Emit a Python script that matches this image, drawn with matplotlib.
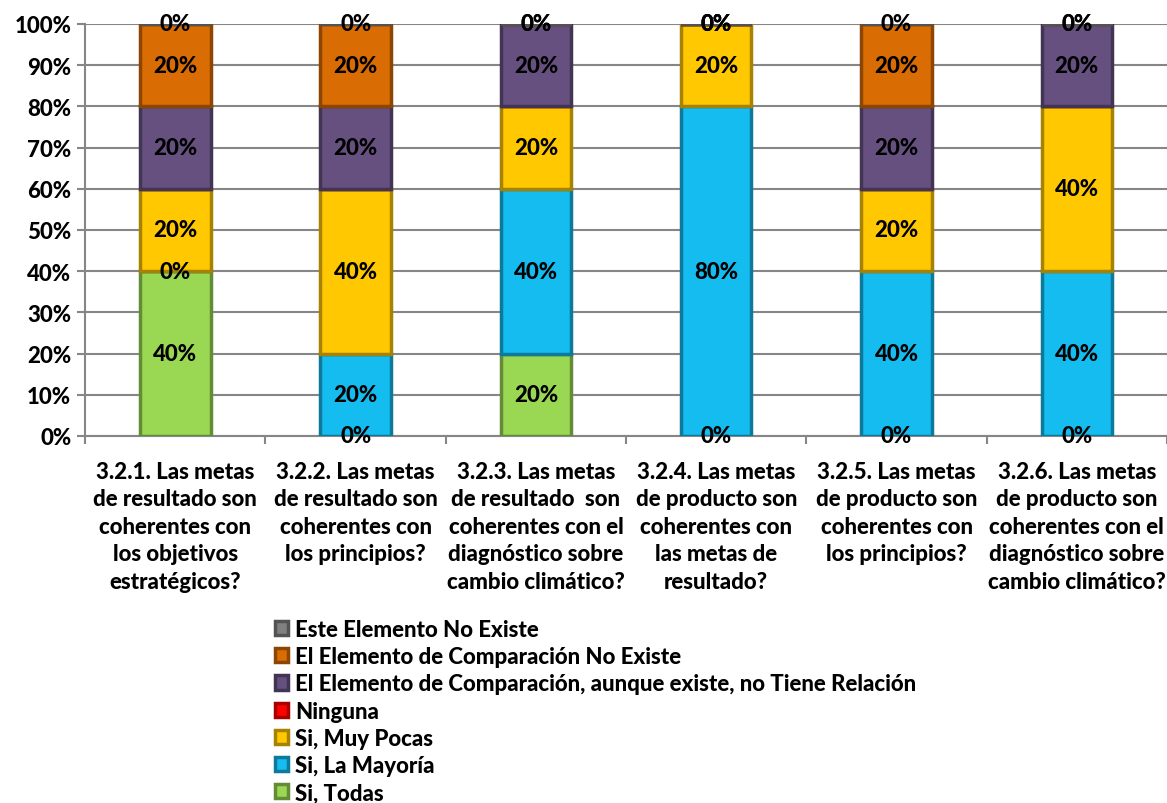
import numpy as np
import matplotlib.pyplot as plt
from matplotlib.colors import to_rgb

plt.rcParams['font.family'] = ['Lato', 'DejaVu Sans']
plt.rcParams['font.weight'] = 'bold'

categories = [
    "3.2.1. Las metas\nde resultado son\ncoherentes con\nlos objetivos\nestratégicos?",
    "3.2.2. Las metas\nde resultado son\ncoherentes con\nlos principios?",
    "3.2.3. Las metas\nde resultado  son\ncoherentes con el\ndiagnóstico sobre\ncambio climático?",
    "3.2.4. Las metas\nde producto son\ncoherentes con\nlas metas de\nresultado?",
    "3.2.5. Las metas\nde producto son\ncoherentes con\nlos principios?",
    "3.2.6. Las metas\nde producto son\ncoherentes con el\ndiagnóstico sobre\ncambio climático?",
]

# stack order, bottom to top
series_names = [
    "Si, Todas",
    "Si, La Mayoría",
    "Si, Muy Pocas",
    "Ninguna",
    "El Elemento de Comparación, aunque existe, no Tiene Relación",
    "El Elemento de Comparación No Existe",
    "Este Elemento No Existe",
]
si_todas = [40, 0, 20, 0, 0, 0]
si_mayoria = [0, 20, 40, 80, 40, 40]
si_pocas = [20, 40, 20, 20, 20, 40]
ninguna = [0, 0, 0, 0, 0, 0]
no_relacion = [20, 20, 20, 0, 20, 20]
comp_no_existe = [20, 20, 0, 0, 20, 0]
no_existe = [0, 0, 0, 0, 0, 0]
series_values = [si_todas, si_mayoria, si_pocas, ninguna, no_relacion, comp_no_existe, no_existe]
colors = ["#9ad854", "#14bcf0", "#ffc800", "#ff0000", "#66507f", "#d96c02", "#808080"]
show_labels = [True, True, True, False, True, True, True]

fig = plt.figure(figsize=(11.67, 8.04), dpi=100)
ax = fig.add_axes([0.073, 0.4565, 0.927, 0.5125])

x = np.arange(len(categories))
bottom = np.zeros(len(categories))
handles = []
for name, vals, col, lab in zip(series_names, series_values, colors, show_labels):
    vals = np.array(vals, dtype=float)
    edge = tuple(c * 0.65 for c in to_rgb(col))
    b = ax.bar(x, vals, 0.39, bottom=bottom, color=col, edgecolor=edge,
               linewidth=2.5, label=name, zorder=3)
    handles.append(b)
    if lab:
        for xi, v, bt in zip(x, vals, bottom):
            ax.text(xi, bt + v / 2, f"{v:.0f}%", ha='center', va='center',
                    fontsize=16, fontweight='black', color='black', zorder=5)
    bottom = bottom + vals

ax.set_xlim(-0.5, len(categories) - 0.5)
ax.set_ylim(0, 100)
ax.set_yticks(np.arange(0, 101, 10))
ax.set_yticklabels([f"{v}%" for v in range(0, 101, 10)], fontsize=16, fontweight='black')
ax.yaxis.grid(True, color='#868686', linewidth=1.5, zorder=0)
ax.set_axisbelow(True)
ax.tick_params(axis='y', length=6, color='#868686', width=1.5, pad=4)

ax.set_xticks(x)
ax.set_xticklabels(categories, fontsize=16, fontweight='black', linespacing=1.38)
ax.tick_params(axis='x', length=0, pad=18)
ax.set_xticks(np.arange(-0.5, len(categories), 1), minor=True)
ax.tick_params(axis='x', which='minor', length=6, color='#868686', width=1.5)

for s in ['top', 'right']:
    ax.spines[s].set_visible(False)
ax.spines['left'].set_color('#868686')
ax.spines['left'].set_linewidth(1.5)
ax.spines['bottom'].set_color('#868686')
ax.spines['bottom'].set_linewidth(1.5)

leg = fig.legend(handles[::-1], series_names[::-1], loc='upper left',
                 bbox_to_anchor=(0.228, 0.24), frameon=False,
                 prop={'size': 16, 'weight': 'black'},
                 handlelength=0.6, handleheight=0.6, handletextpad=0.3,
                 labelspacing=0.28, borderaxespad=0)

fig.savefig("out.png", dpi=100)
